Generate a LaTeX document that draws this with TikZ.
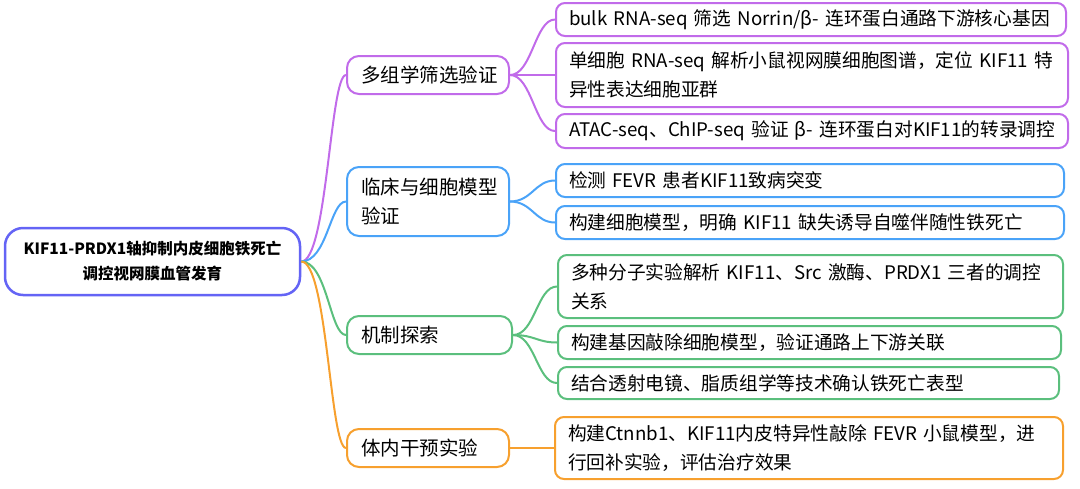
\documentclass[tikz,border=0pt]{standalone}
\usepackage{fontspec}
\setmainfont{Noto Sans CJK SC}
\definecolor{cpur}{HTML}{C16BEA}
\definecolor{cblu}{HTML}{4AA3F8}
\definecolor{cgrn}{HTML}{5BBF7D}
\definecolor{cora}{HTML}{F7A02E}
\definecolor{croot}{HTML}{6464F5}
\newcommand{\oneline}[1]{\mbox{#1}}
\tikzset{
  rootbox/.style={draw=croot, line width=2.5pt, rounded corners=18pt, fill=white,
    text width=280pt, inner xsep=7.5pt, inner ysep=0pt, minimum height=67pt, align=center,
    font=\fontsize{15.5}{25}\selectfont\bfseries},
  midbox/.style={draw=#1, line width=2pt, rounded corners=12pt, fill=white,
    text width=134pt, inner xsep=14pt, inner ysep=0pt, align=left,
    font=\fontsize{19.5}{29}\selectfont},
  leafbox/.style={draw=#1, line width=2pt, rounded corners=9pt, fill=white,
    inner xsep=13pt, inner ysep=0pt, align=left,
    font=\fontsize{18.7}{29}\selectfont},
  conn/.style={draw=#1, line width=2pt},
}
\begin{document}
\begin{tikzpicture}[x=1pt,y=-1pt]
\useasboundingbox (0,0) rectangle (1080,488);
% root
\node[rootbox, anchor=center] (root) at (152.5,261.5) {KIF11-PRDX1轴抑制内皮细胞铁死亡\\调控视网膜血管发育};
% level 1
\node[midbox=cpur, minimum height=38pt, anchor=west] (a) at (346,75) {多组学筛选验证};
\node[midbox=cblu, minimum height=69pt, anchor=west] (b) at (346,201.5) {临床与细胞模型\\验证};
\node[midbox=cgrn, text width=137pt, minimum height=38pt, anchor=west] (c) at (346,335) {机制探索};
\node[midbox=cora, minimum height=38pt, anchor=west] (d) at (346,448) {体内干预实验};
% level 2
\node[leafbox=cpur, text width=484pt, minimum height=33pt, anchor=west] (a1) at (555,19.5) {\oneline{bulk RNA-seq 筛选 Norrin/β- 连环蛋白通路下游核心基因}};
\node[leafbox=cpur, text width=486pt, minimum height=64pt, anchor=west] (a2) at (555,75) {\oneline{单细胞 RNA-seq 解析小鼠视网膜细胞图谱，定位 KIF11 特}\\\oneline{异性表达细胞亚群}};
\node[leafbox=cpur, text width=486pt, minimum height=34pt, anchor=west] (a3) at (555,131) {\oneline{ATAC-seq、ChIP-seq 验证 β- 连环蛋白对KIF11的转录调控}};
\node[leafbox=cblu, text width=482pt, minimum height=33pt, anchor=west] (b1) at (555,180.5) {\oneline{检测 FEVR 患者KIF11致病突变}};
\node[leafbox=cblu, text width=482pt, minimum height=33pt, anchor=west] (b2) at (555,222.5) {\oneline{构建细胞模型，明确 KIF11 缺失诱导自噬伴随性铁死亡}};
\node[leafbox=cgrn, text width=479pt, minimum height=63pt, anchor=west] (c1) at (557,286.5) {\oneline{多种分子实验解析 KIF11、Src 激酶、PRDX1 三者的调控}\\\oneline{关系}};
\node[leafbox=cgrn, text width=477pt, minimum height=33pt, anchor=west] (c2) at (557,342.5) {\oneline{构建基因敲除细胞模型，验证通路上下游关联}};
\node[leafbox=cgrn, text width=475pt, minimum height=32pt, anchor=west] (c3) at (557,383) {\oneline{结合透射电镜、脂质组学等技术确认铁死亡表型}};
\node[leafbox=cora, text width=482pt, minimum height=62pt, anchor=west] (d1) at (554,448) {\oneline{构建Ctnnb1、KIF11内皮特异性敲除 FEVR 小鼠模型，进}\\\oneline{行回补实验，评估治疗效果}};
% connectors root -> level 1
\draw[conn=cpur] (root.east) .. controls +(26,0) and +(-16,0) .. (a.west);
\draw[conn=cblu] (root.east) .. controls +(26,0) and +(-16,0) .. (b.west);
\draw[conn=cgrn] (root.east) .. controls +(26,0) and +(-16,0) .. (c.west);
\draw[conn=cora] (root.east) .. controls +(26,0) and +(-16,0) .. (d.west);
% level 1 -> level 2
\draw[conn=cpur] (a.east) .. controls +(22,0) and +(-20,0) .. (a1.west);
\draw[conn=cpur] (a.east) -- (a2.west);
\draw[conn=cpur] (a.east) .. controls +(22,0) and +(-20,0) .. (a3.west);
\draw[conn=cblu] (b.east) .. controls +(22,0) and +(-20,0) .. (b1.west);
\draw[conn=cblu] (b.east) .. controls +(22,0) and +(-20,0) .. (b2.west);
\draw[conn=cgrn] (c.east) .. controls +(22,0) and +(-20,0) .. (c1.west);
\draw[conn=cgrn] (c.east) .. controls +(22,0) and +(-20,0) .. (c2.west);
\draw[conn=cgrn] (c.east) .. controls +(22,0) and +(-20,0) .. (c3.west);
\draw[conn=cora] (d.east) -- (d1.west);
\end{tikzpicture}
\end{document}
